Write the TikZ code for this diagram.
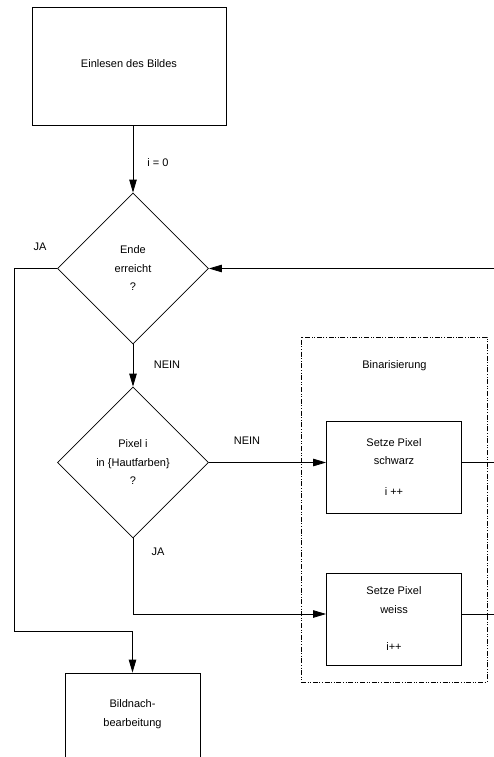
\documentclass[tikz,border=0pt]{standalone}
\usepackage{fontspec}
\setmainfont{Liberation Sans}
\usetikzlibrary{shapes.geometric,arrows.meta}
\begin{document}
\begin{tikzpicture}[x=1pt,y=-1pt,
  font=\fontsize{11}{18.5}\selectfont,
  line width=0.8pt,
  flow/.style={-{Triangle[length=13pt,width=7.5pt]}},
  box/.style={draw, rectangle, minimum width=135pt, minimum height=92pt, inner sep=0pt, align=center},
  decision/.style={draw, diamond, aspect=1, minimum width=151pt, minimum height=151pt, inner sep=0pt, align=center},
  group/.style={draw, rectangle, inner sep=0pt, line width=0.7pt,
    dash pattern=on 5pt off 1.6pt on 1pt off 1.6pt on 1pt off 1.6pt},
  lbl/.style={inner sep=0pt}]
\useasboundingbox (0,0) rectangle (494,757);
\clip (0,0) rectangle (494,757);

% process steps and decisions
\node[box, minimum width=194pt, minimum height=118pt, text height=8pt, text depth=4pt] (read) at (129,66) {Einlesen des Bildes};
\node[decision] (d1) at (133,268.5) {Ende\\erreicht\\?};
\node[decision] (d2) at (133,462.5) {Pixel i\\in \{Hautfarben\}\\?};

% binarisation group
\node[group, minimum width=186pt, minimum height=345pt] (bin) at (394,509.5) {};
\node[lbl] (bintitle) at (394.5,366) {Binarisierung};
\node[box] (black) at (394,467) {Setze Pixel\\schwarz\\[12.5pt]i ++};
\node[box] (white) at (394,619) {Setze Pixel\\weiss\\[19pt]i++};

% post-processing (runs past the lower edge)
\node[box, minimum height=100pt, text depth=20pt] (post) at (132.5,723) {Bildnach-\\bearbeitung};

% routing points
\coordinate (jl) at (14.5,631);
\coordinate (j2) at (133,614);
\coordinate (rimR) at (494,268.5);
\coordinate (rimA) at (494,462.5);
\coordinate (rimB) at (494,614);

% connectors
\draw[flow] (read.south -| d1.north) -- (d1.north);
\draw[flow] (d1.south) -- (d2.north);
\draw[flow] (d1.west) -| (jl) -| (post.north);
\draw[flow] (rimR) -- (d1.east);
\draw[flow] (d2.east) -- (d2.east -| black.west);
\draw[flow] (d2.south) -- (j2) -- (j2 -| white.west);
\draw (d2.east -| black.east) -- (rimA);
\draw (j2 -| white.east) -- (rimB);

% branch labels
\node[lbl] (l0) at (158,163) {i = 0};
\node[lbl] (ja1) at (40,247) {JA};
\node[lbl] (nein1) at (167,365) {NEIN};
\node[lbl] (nein2) at (247,441) {NEIN};
\node[lbl] (ja2) at (158,552) {JA};
\end{tikzpicture}
\end{document}
